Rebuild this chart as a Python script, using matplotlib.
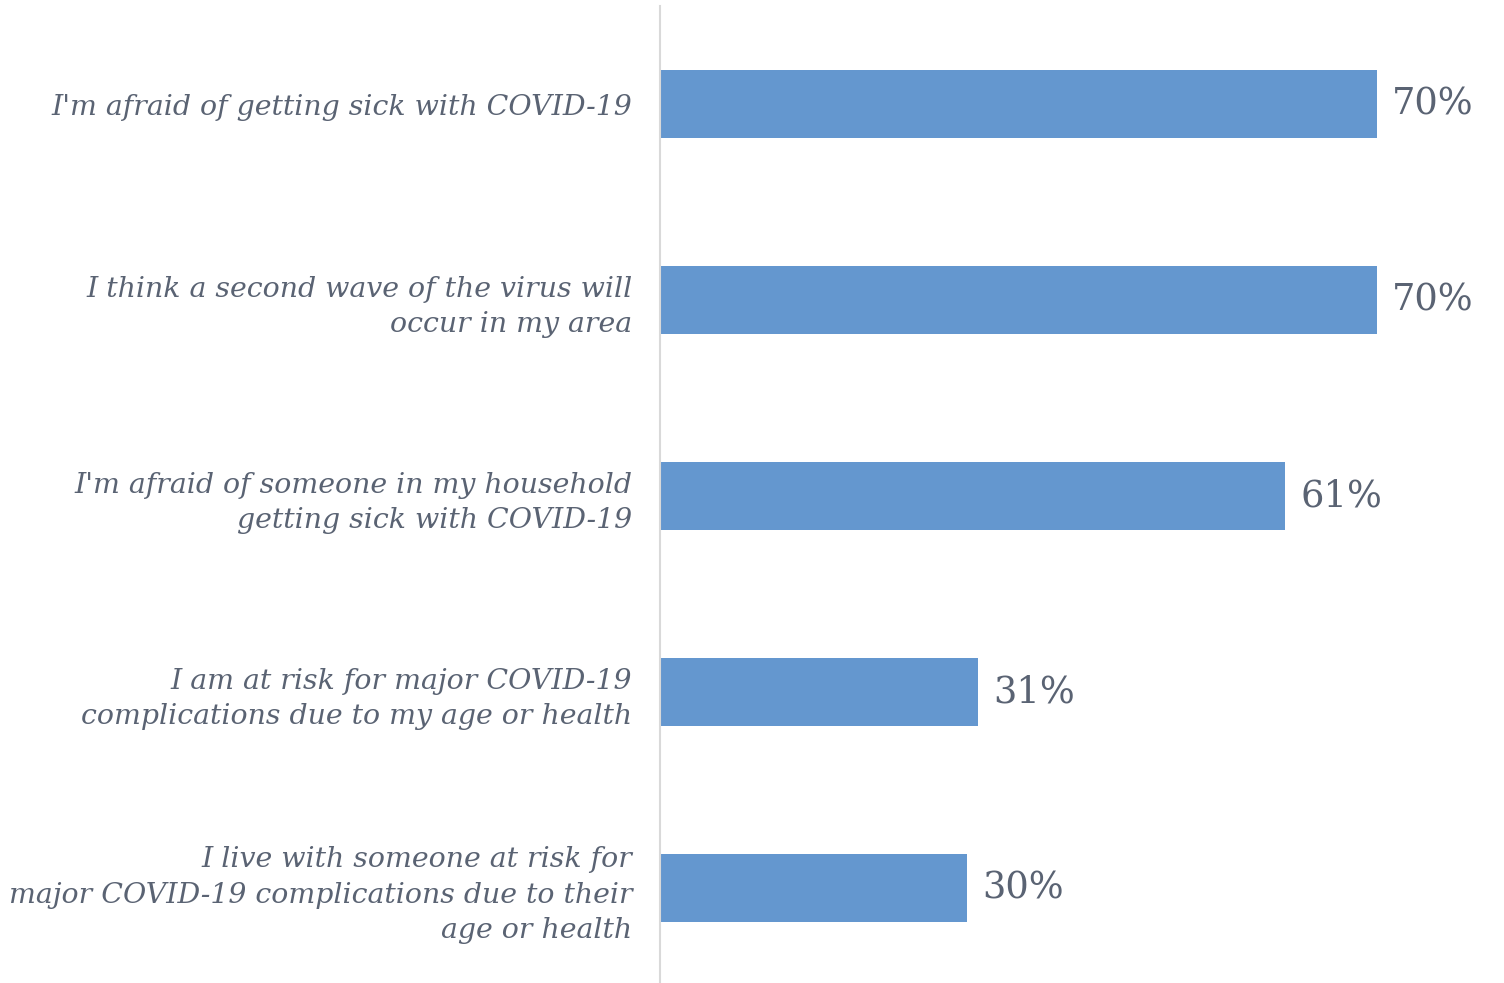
import matplotlib
matplotlib.use('Agg')
import matplotlib.pyplot as plt

# survey statements, top to bottom
statements = [
    "I'm afraid of getting sick with COVID-19",
    "I think a second wave of the virus will\noccur in my area",
    "I'm afraid of someone in my household\ngetting sick with COVID-19",
    "I am at risk for major COVID-19\ncomplications due to my age or health",
    "I live with someone at risk for\nmajor COVID-19 complications due to their\nage or health",
]
percents = [70, 70, 61, 31, 30]

bar_color = '#6497cf'
text_color = '#5a6373'

fig = plt.figure(figsize=(15.04, 9.83), dpi=100)
ax = fig.add_axes([660 / 1504, -3 / 983, 844 / 1504, 980 / 983])

ypos = list(range(len(statements)))
ax.barh(ypos, percents, height=0.35, color=bar_color, zorder=2)
ax.set_ylim(len(statements) - 0.5, -0.5)
ax.set_xlim(0, 82.4)

for y, p in zip(ypos, percents):
    ax.text(p + 1.5, y, '{0}%'.format(p), va='center', ha='left',
            fontsize=26.5, color=text_color, family='DejaVu Serif')

ax.set_yticks(ypos)
ax.set_yticklabels(statements, fontsize=20.4, style='italic',
                   family='DejaVu Serif', color=text_color,
                   linespacing=1.4)
ax.tick_params(axis='y', length=0, pad=20)
ax.set_xticks([])

for side in ['top', 'right', 'bottom']:
    ax.spines[side].set_visible(False)
ax.spines['left'].set_color('#d9d9d9')
ax.spines['left'].set_linewidth(1.5)

fig.savefig('out.png', dpi=100)
